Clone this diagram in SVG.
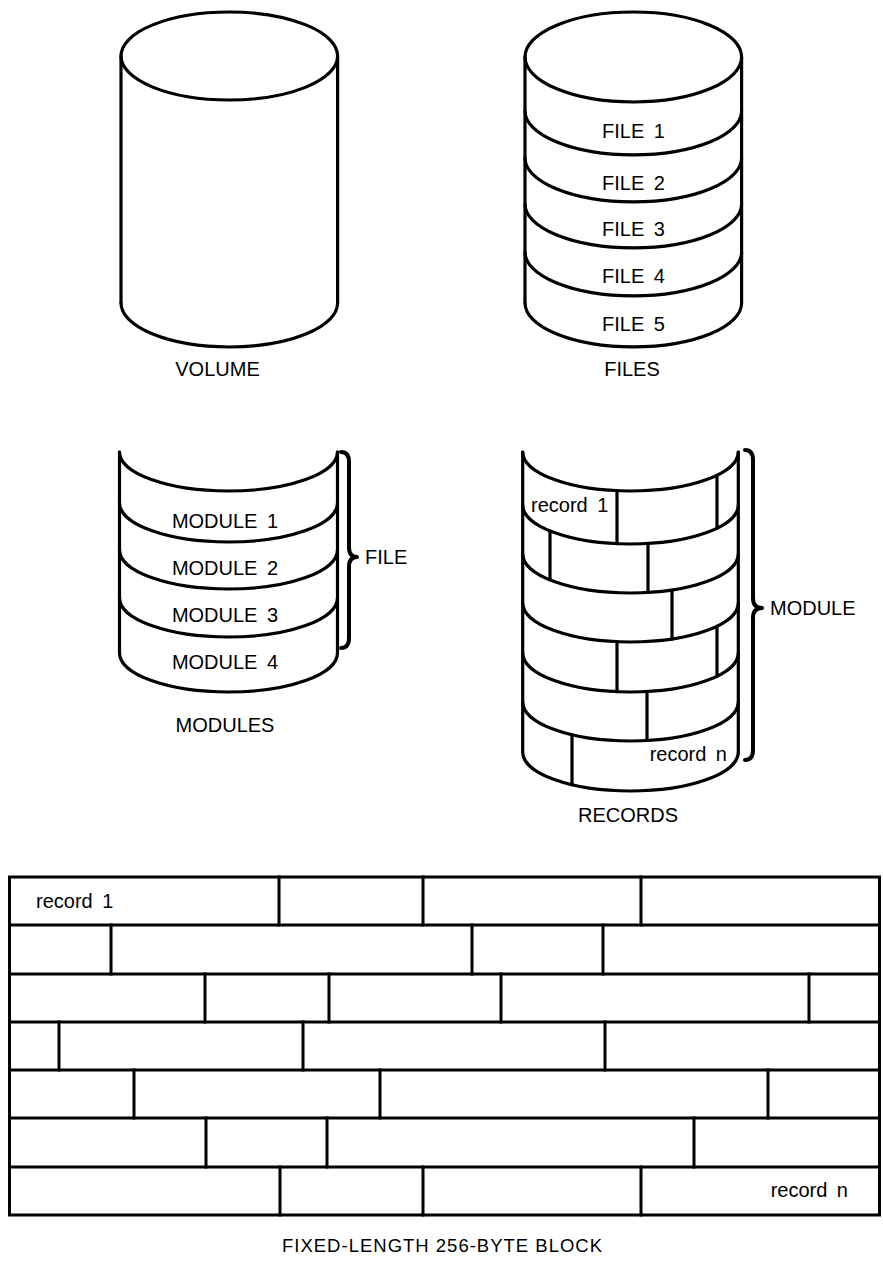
<svg xmlns="http://www.w3.org/2000/svg" width="883" height="1261" viewBox="0 0 883 1261">
  <style>
    .ln { fill: none; stroke: #000; stroke-width: 3.2; stroke-linecap: round; stroke-linejoin: round; }
    .bk { fill: none; stroke: #000; stroke-width: 3; stroke-linecap: square; }
    .br { fill: none; stroke: #000; stroke-width: 4; stroke-linecap: round; stroke-linejoin: round; }
    .lb { font-family: "Liberation Sans", Arial, sans-serif; font-size: 20px; fill: #000; }
    .mid { text-anchor: middle; }
    .ws { word-spacing: 4px; }
  </style>
  <rect width="883" height="1261" fill="#fff"/>

  <!-- volume: closed cylinder -->
  <g id="volume">
    <ellipse class="ln" cx="229.3" cy="56" rx="108.3" ry="44"/>
    <path class="ln" d="M121,56 L121,303 M337.6,56 L337.6,303"/>
    <path class="ln" d="M121,303 A108.3,44 0 0 0 337.6,303"/>
    <text class="lb mid" x="217.5" y="376">VOLUME</text>
  </g>

  <!-- files: cylinder divided into five bands -->
  <g id="files">
    <ellipse class="ln" cx="633.3" cy="57" rx="108.3" ry="45"/>
    <path class="ln" d="M525,57 L525,303 M741.6,57 L741.6,303"/>
    <path class="ln" d="M525,111 A108.3,44 0 0 0 741.6,111 M525,158 A108.3,44 0 0 0 741.6,158 M525,204 A108.3,44 0 0 0 741.6,204 M525,252 A108.3,44 0 0 0 741.6,252 M525,303 A108.3,44 0 0 0 741.6,303"/>
    <text class="lb mid ws" x="633.5" y="138">FILE 1</text>
    <text class="lb mid ws" x="633.5" y="190">FILE 2</text>
    <text class="lb mid ws" x="633.5" y="236">FILE 3</text>
    <text class="lb mid ws" x="633.5" y="283">FILE 4</text>
    <text class="lb mid ws" x="633.5" y="331">FILE 5</text>
    <text class="lb mid" x="632" y="376">FILES</text>
  </g>

  <!-- modules: open cylinder of four bands with a brace -->
  <g id="modules">
    <path class="ln" d="M119.5,452 L119.5,653 M337.5,452 L337.5,653"/>
    <path class="ln" d="M119.5,452 A109,39 0 0 0 337.5,452 M119.5,503 A109,39 0 0 0 337.5,503 M119.5,550 A109,39 0 0 0 337.5,550 M119.5,598 A109,39 0 0 0 337.5,598 M119.5,653 A109,39 0 0 0 337.5,653"/>
    <text class="lb mid ws" x="225" y="528">MODULE 1</text>
    <text class="lb mid ws" x="225" y="575">MODULE 2</text>
    <text class="lb mid ws" x="225" y="622">MODULE 3</text>
    <text class="lb mid ws" x="225" y="669">MODULE 4</text>
    <text class="lb mid" x="225" y="732">MODULES</text>
    <path class="br" d="M341,452 Q349,452 349,462 L349,547 Q349,557 357,557 Q349,557 349,567 L349,638 Q349,648 341,648"/>
    <text class="lb" x="365" y="564">FILE</text>
  </g>

  <!-- records: open cylinder laid out in staggered rows -->
  <g id="records">
    <path class="ln" d="M522.7,452 L522.7,752 M738.3,452 L738.3,752"/>
    <path class="ln" d="M522.7,452 A107.8,39 0 0 0 738.3,452 M522.7,505 A107.8,39 0 0 0 738.3,505 M522.7,554 A107.8,39 0 0 0 738.3,554 M522.7,603 A107.8,39 0 0 0 738.3,603 M522.7,653 A107.8,39 0 0 0 738.3,653 M522.7,702 A107.8,39 0 0 0 738.3,702 M522.7,752 A107.8,39 0 0 0 738.3,752"/>
    <path class="ln" d="M617,490.7 L617,543.7 M717,475.3 L717,528.3 M550,530.9 L550,579.9 M648,543.5 L648,592.5 M672,590 L672,639 M617,641.7 L617,691.7 M717,626.3 L717,676.3 M647,691.5 L647,740.5 M572,734.8 L572,784.8"/>
    <text class="lb ws" x="531" y="512">record 1</text>
    <text class="lb ws" x="727" y="761" text-anchor="end">record n</text>
    <text class="lb mid" x="628" y="822">RECORDS</text>
    <path class="br" d="M745,450 Q753,450 753,460 L753,598 Q753,608 762,608 Q753,608 753,618 L753,750 Q753,760 745,760"/>
    <text class="lb" x="770" y="615">MODULE</text>
  </g>

  <!-- fixed-length block: seven rows of variable-length records -->
  <g id="block">
    <rect class="bk" x="9.5" y="877" width="870" height="338"/>
    <path class="bk" d="M9.5,925 H879.5 M9.5,974 H879.5 M9.5,1022 H879.5 M9.5,1070 H879.5 M9.5,1118 H879.5 M9.5,1167 H879.5"/>
    <path class="bk" d="M279,877 V925 M423,877 V925 M641,877 V925
                        M111,925 V974 M472,925 V974 M603,925 V974
                        M205,974 V1022 M329,974 V1022 M501,974 V1022 M809,974 V1022
                        M59,1022 V1070 M303,1022 V1070 M605,1022 V1070
                        M134,1070 V1118 M380,1070 V1118 M768,1070 V1118
                        M206,1118 V1167 M327,1118 V1167 M694,1118 V1167
                        M280,1167 V1215 M423,1167 V1215 M641,1167 V1215"/>
    <text class="lb ws" x="36" y="908">record 1</text>
    <text class="lb ws" x="848" y="1197" text-anchor="end">record n</text>
    <text class="lb" x="282" y="1252" style="font-size:18.5px; letter-spacing:1px">FIXED-LENGTH 256-BYTE BLOCK</text>
  </g>
</svg>
